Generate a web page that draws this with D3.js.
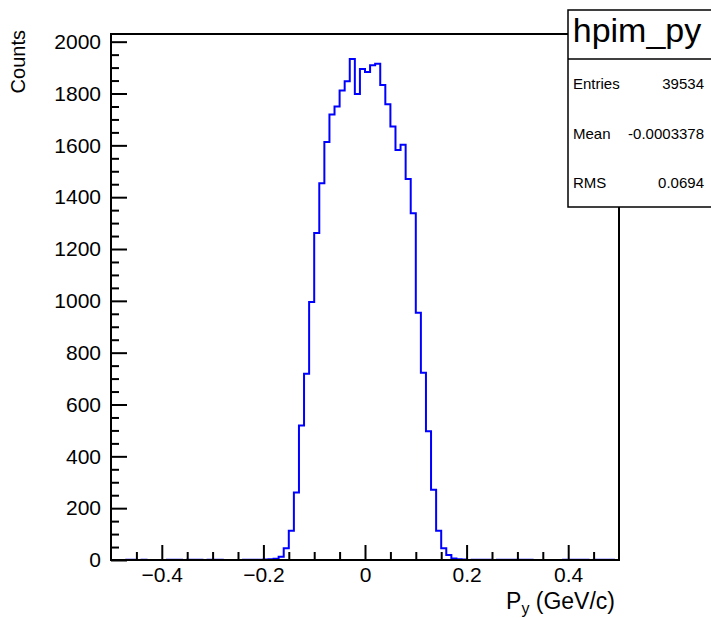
<!DOCTYPE html>
<html>
<head>
<meta charset="utf-8">
<script src="https://cdn.jsdelivr.net/npm/d3@7"></script>
<style>
  html, body { margin: 0; padding: 0; background: #fff; }
  svg { display: block; font-family: "Liberation Sans", Arial, Helvetica, sans-serif; }
</style>
</head>
<body>
<svg id="chart" width="711" height="618"></svg>
<script>
// ---- data ----
const binLow = -0.5;
const binWidth = 0.01;
const counts = [
  0, 0, 0, 1, 1, 0, 1, 0, 0, 0,
  0, 1, 1, 1, 0, 1, 1, 1, 0, 1,
  1, 1, 0, 0, 0, 0, 1, 1, 1, 1,
  2, 3, 5, 13, 45, 113, 260, 519, 719, 996,
  1262, 1454, 1613, 1719, 1750, 1812, 1847, 1933, 1798, 1895,
  1883, 1909, 1915, 1833, 1759, 1673, 1582, 1602, 1470, 1338,
  954, 723, 497, 271, 113, 45, 19, 6, 3, 2,
  0, 1, 1, 1, 1, 0, 1, 1, 1, 1,
  1, 1, 1, 0, 0, 0, 0, 0, 0, 1,
  1, 1, 1, 1, 0, 1, 1, 1, 1, 0
];
const xMajorTicks = [-0.4, -0.2, 0, 0.2, 0.4];
const xMajorLabels = ["\u22120.4", "\u22120.2", "0", "0.2", "0.4"];
const xMinorTicks = [-0.45, -0.35, -0.3, -0.25, -0.15, -0.1, -0.05, 0.05, 0.1, 0.15, 0.25, 0.3, 0.35, 0.45];
const yMajorTicks = [0, 200, 400, 600, 800, 1000, 1200, 1400, 1600, 1800, 2000];
const yMinorTicks = [50,100,150,250,300,350,450,500,550,650,700,750,850,900,950,1050,1100,1150,1250,1300,1350,1450,1500,1550,1650,1700,1750,1850,1900,1950];
const statsTitle = "hpim_py";
const statsLabels = ["Entries", "Mean", "RMS"];
const statsValues = ["39534", "-0.0003378", "0.0694"];

// ---- layout ----
const svg = d3.select("#chart");
const L = 111, R = 619, T = 34, B = 560;
const yMax = d3.max(counts) * 1.05;

const x = d3.scaleLinear().domain([-0.5, 0.5]).range([L, R]);
const y = d3.scaleLinear().domain([0, yMax]).range([B, T]);

// histogram outline
const pts = counts.map((c, i) => [binLow + i * binWidth, c]);
pts.push([binLow + counts.length * binWidth, counts[counts.length - 1]]);
const line = d3.line().x(d => x(d[0])).y(d => y(d[1])).curve(d3.curveStepAfter);
svg.append("path")
  .datum(pts)
  .attr("d", line)
  .attr("fill", "none")
  .attr("stroke", "#0000ff")
  .attr("stroke-width", 2);

// axes
const tickFont = 21;
const xAxisMajor = d3.axisBottom(x).tickValues(xMajorTicks)
  .tickFormat((d, i) => xMajorLabels[i]).tickSizeInner(-15).tickSizeOuter(0).tickPadding(7);
const xAxisMinor = d3.axisBottom(x).tickValues(xMinorTicks).tickFormat("").tickSizeInner(-8).tickSizeOuter(0);
const yAxisMajor = d3.axisLeft(y).tickValues(yMajorTicks).tickFormat(d3.format("d")).tickSizeInner(-16).tickSizeOuter(0).tickPadding(10);
const yAxisMinor = d3.axisLeft(y).tickValues(yMinorTicks).tickFormat("").tickSizeInner(-8).tickSizeOuter(0);

function styleAxis(g) {
  g.select(".domain").remove();
  g.selectAll("line").attr("stroke", "#000").attr("stroke-width", 2);
  g.selectAll("text").attr("fill", "#000").style("font-size", tickFont + "px")
    .style("font-family", '"Liberation Sans", Arial, Helvetica, sans-serif');
}
svg.append("g").attr("transform", `translate(0,${B})`).call(xAxisMinor).call(styleAxis);
svg.append("g").attr("transform", `translate(0,${B})`).call(xAxisMajor).call(styleAxis);
svg.append("g").attr("transform", `translate(${L},0)`).call(yAxisMinor).call(styleAxis);
svg.append("g").attr("transform", `translate(${L},0)`).call(yAxisMajor).call(styleAxis);

// frame
svg.append("rect")
  .attr("x", L).attr("y", T).attr("width", R - L).attr("height", B - T)
  .attr("fill", "none").attr("stroke", "#000").attr("stroke-width", 2);

// axis titles
const xt = svg.append("text")
  .attr("x", 615).attr("y", 609)
  .attr("text-anchor", "end")
  .style("font-size", "23px").attr("fill", "#000");
xt.append("tspan").text("P");
xt.append("tspan").attr("dy", 5).style("font-size", "16px").text("y");
xt.append("tspan").attr("dy", -5).text(" (GeV/c)");

svg.append("text")
  .attr("transform", "translate(25,30) rotate(-90)")
  .attr("text-anchor", "end")
  .style("font-size", "20px").attr("fill", "#000")
  .text("Counts");

// stats box
const sb = svg.append("g");
sb.append("rect").attr("x", 568).attr("y", 10).attr("width", 146).attr("height", 197)
  .attr("fill", "#fff").attr("stroke", "#000").attr("stroke-width", 1.5);
sb.append("line").attr("x1", 568).attr("x2", 714).attr("y1", 59).attr("y2", 59)
  .attr("stroke", "#000").attr("stroke-width", 1.5);
sb.append("text").attr("x", 637).attr("y", 42).attr("text-anchor", "middle")
  .style("font-size", "34px").attr("fill", "#000").text(statsTitle);
const rowY = [89, 139, 188];
statsLabels.forEach((lab, i) => {
  sb.append("text").attr("x", 573).attr("y", rowY[i]).style("font-size", "15px").attr("fill", "#000").text(lab);
  sb.append("text").attr("x", 704).attr("y", rowY[i]).attr("text-anchor", "end")
    .style("font-size", "15px").attr("fill", "#000").text(statsValues[i]);
});
</script>
</body>
</html>
